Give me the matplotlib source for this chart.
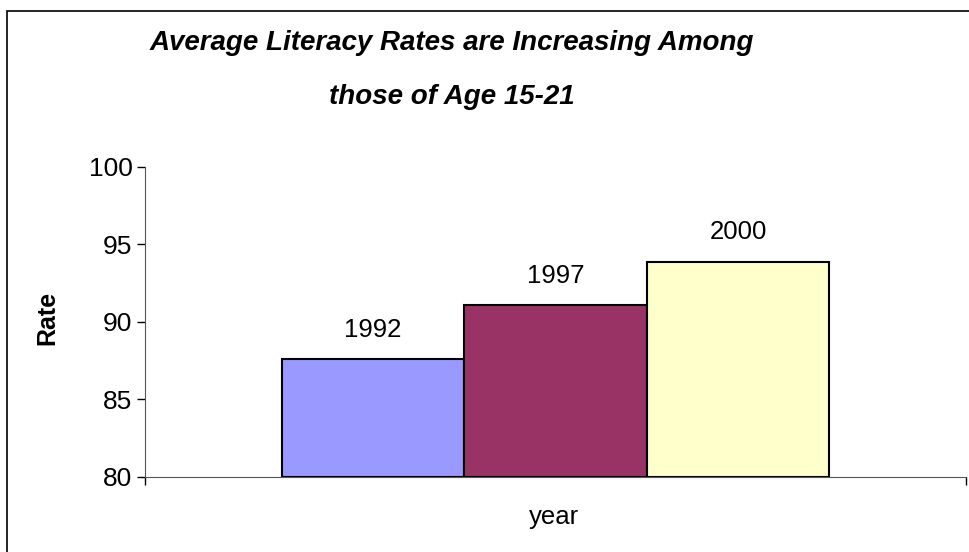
import matplotlib.pyplot as plt
from matplotlib.patches import Rectangle

years = ["1992", "1997", "2000"]
rates = [87.6, 91.1, 93.9]
colors = ["#9999ff", "#993366", "#ffffcc"]
y_ticks = [80, 85, 90, 95, 100]
title_lines = ["Average Literacy Rates are Increasing Among", "those of Age 15-21"]

plt.rcParams["font.family"] = ["Liberation Sans", "DejaVu Sans"]

fig = plt.figure(figsize=(9.7, 5.52), dpi=100)
ax = fig.add_axes([0.1495, 0.1359, 0.8464, 0.5616])

# one category, three series side by side (Excel-style clustered bars, gap 50%)
n = len(rates)
group = 1 / 1.5
width = group / n
for i, (yr, val, col) in enumerate(zip(years, rates, colors)):
    x = -group / 2 + width * (i + 0.5)
    ax.bar(x, val - 80, width=width, bottom=80, color=col,
           edgecolor="black", linewidth=1.5)
    ax.annotate(yr, (x, val), xytext=(0, 21), textcoords="offset points",
                ha="center", va="center", fontsize=18.5)

ax.set_xlim(-0.5, 0.5)
ax.set_ylim(80, 100)
ax.set_yticks(y_ticks)
ax.set_xticks([-0.5, 0.5])
ax.set_xticklabels([])
ax.tick_params(axis="both", direction="out", length=6, width=1, labelsize=19, pad=3)
for s in ["top", "right"]:
    ax.spines[s].set_visible(False)
ax.spines["left"].set_color("#555555")
ax.spines["bottom"].set_color("#555555")

fig.text(47 / 970, 1 - 318 / 552, "Rate", rotation=90, ha="center", va="center",
         fontsize=18, fontweight="bold")
fig.text(554 / 970, 1 - 517 / 552, "year", ha="center", va="center", fontsize=18.5)

for line, ypix in zip(title_lines, [43, 97]):
    fig.text(452 / 970, 1 - ypix / 552, line, ha="center", va="center",
             fontsize=20, fontweight="bold", style="italic")

# chart area border (cropped at right and bottom in the original)
fig.add_artist(Rectangle((0.0072, -0.1), 1.2, 1 - 0.02 + 0.1, transform=fig.transFigure,
                         fill=False, edgecolor="black", linewidth=1.2))

fig.savefig("out.png", dpi=100)
